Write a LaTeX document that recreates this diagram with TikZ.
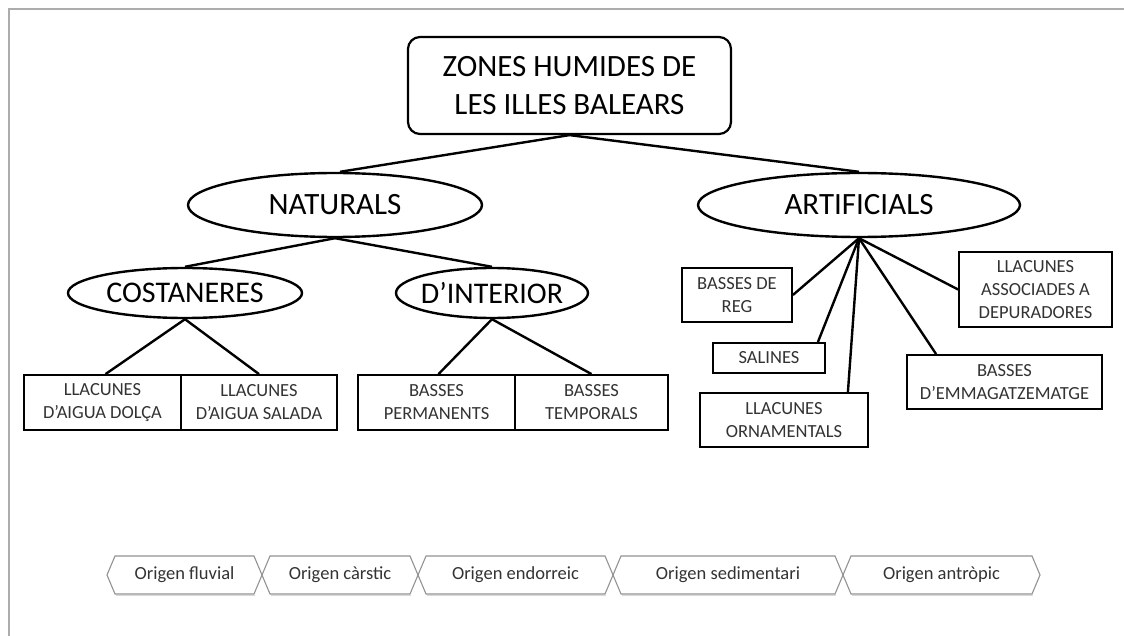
\documentclass[tikz,border=0pt]{standalone}
\usepackage{fontspec}
\setmainfont{Carlito}
\usetikzlibrary{shapes.geometric}
\begin{document}
\begin{tikzpicture}[x=1pt,y=-1pt,
  conn/.style={line width=2.4pt, black},
  bigtext/.style={font=\fontsize{31}{38}\selectfont},
  midtext/.style={font=\fontsize{30}{36}\selectfont},
  oval/.style={draw, ellipse, line width=2.4pt, inner sep=0pt},
  leaf/.style={draw, rectangle, line width=1.8pt, inner sep=0pt, align=center,
     font=\fontsize{18.5}{23}\selectfont, text=black!80},
  chevline/.style={draw=gray!85, line width=1.1pt, line join=miter},
  chevshadow/.style={draw=gray!30, line width=1.4pt},
  chevtext/.style={font=\fontsize{18.5}{22}\selectfont, text=black!80},
  frameline/.style={draw=gray!65, line width=2pt}
]
\useasboundingbox[fill=white] (0,0) rectangle (1124,636);
\draw[frameline] (8,9) -- (1124,9);
\draw[frameline] (9,9) -- (9,636);

% title
\node[draw, rounded corners=12pt, line width=2.2pt, minimum width=323pt,
      minimum height=97pt, inner sep=0pt, align=center, bigtext]
      (title) at (569.5,85.5) {ZONES HUMIDES DE\\LES ILLES BALEARS};

% level 1
\node[oval, minimum width=294pt, minimum height=64pt, bigtext] (nat) at (335,205) {\makebox[0pt]{NATURALS}};
\node[oval, minimum width=322pt, minimum height=64pt, bigtext] (art) at (859,205) {\makebox[0pt]{ARTIFICIALS}};

% level 2
\node[oval, minimum width=234pt, minimum height=50pt, midtext] (cos) at (185,293) {\makebox[0pt]{COSTANERES}};
\node[oval, minimum width=192pt, minimum height=50pt, midtext] (int) at (492,293) {\makebox[0pt]{D’INTERIOR}};

% leaves
\node[leaf, minimum width=157pt, minimum height=55pt] (l1) at (102.5,402.5) {LLACUNES\\D’AIGUA DOLÇA};
\node[leaf, minimum width=156pt, minimum height=55pt] (l2) at (259,402.5) {LLACUNES\\D’AIGUA SALADA};
\node[leaf, minimum width=157pt, minimum height=55pt] (l3) at (436.5,402.5) {BASSES\\PERMANENTS};
\node[leaf, minimum width=153pt, minimum height=55pt] (l4) at (591.5,402.5) {BASSES\\TEMPORALS};

% artificial boxes
\node[leaf, minimum width=110pt, minimum height=54pt] (reg) at (737,295) {BASSES DE\\REG};
\node[leaf, minimum width=112pt, minimum height=30pt] (sal) at (769,358) {SALINES};
\node[leaf, minimum width=168pt, minimum height=54pt] (orn) at (784,420) {LLACUNES\\ORNAMENTALS};
\node[leaf, minimum width=195pt, minimum height=54pt] (emm) at (1004.5,382) {BASSES\\D’EMMAGATZEMATGE};
\node[leaf, minimum width=153pt, minimum height=75pt] (dep) at (1035.5,289.5) {LLACUNES\\ASSOCIADES A\\DEPURADORES};

% connectors
\draw[conn] (title.south) -- ([xshift=5pt]nat.north);
\draw[conn] (title.south) -- (art.north);
\draw[conn] (nat.south) -- (cos.north);
\draw[conn] (nat.south) -- (int.north);
\draw[conn] (cos.south) -- ([xshift=3pt]l1.north);
\draw[conn] (cos.south) -- (l2.north);
\draw[conn] (int.south) -- ([xshift=2pt]l3.north);
\draw[conn] (int.south) -- (l4.north);
\draw[conn] (art.south) -- (reg.east);
\draw[conn] (art.south) -- ([xshift=-8pt]sal.north east);
\draw[conn] (art.south) -- ([xshift=-21pt]orn.north east);
\draw[conn] (art.south) -- ([xshift=30pt]emm.north west);
\draw[conn] (art.south) -- (dep.west);

% origins
\foreach \a/\b/\t [count=\i] in {107/262/Origen fluvial, 262/418/Origen càrstic,
    418/613/Origen endorreic, 613/843/Origen sedimentari, 843/1040/Origen antròpic}{
  \draw[chevshadow] (\a+9,595.5) -- (\b-7,595.5);
  \draw[chevline] (\a,575) -- (\a+8,556) -- (\b-8,556) -- (\b,575) -- (\b-8,594) -- (\a+8,594) -- cycle;
  \node[chevtext] (o\i) at ({(\a+\b)/2},575) {\t};
}
\end{tikzpicture}
\end{document}
